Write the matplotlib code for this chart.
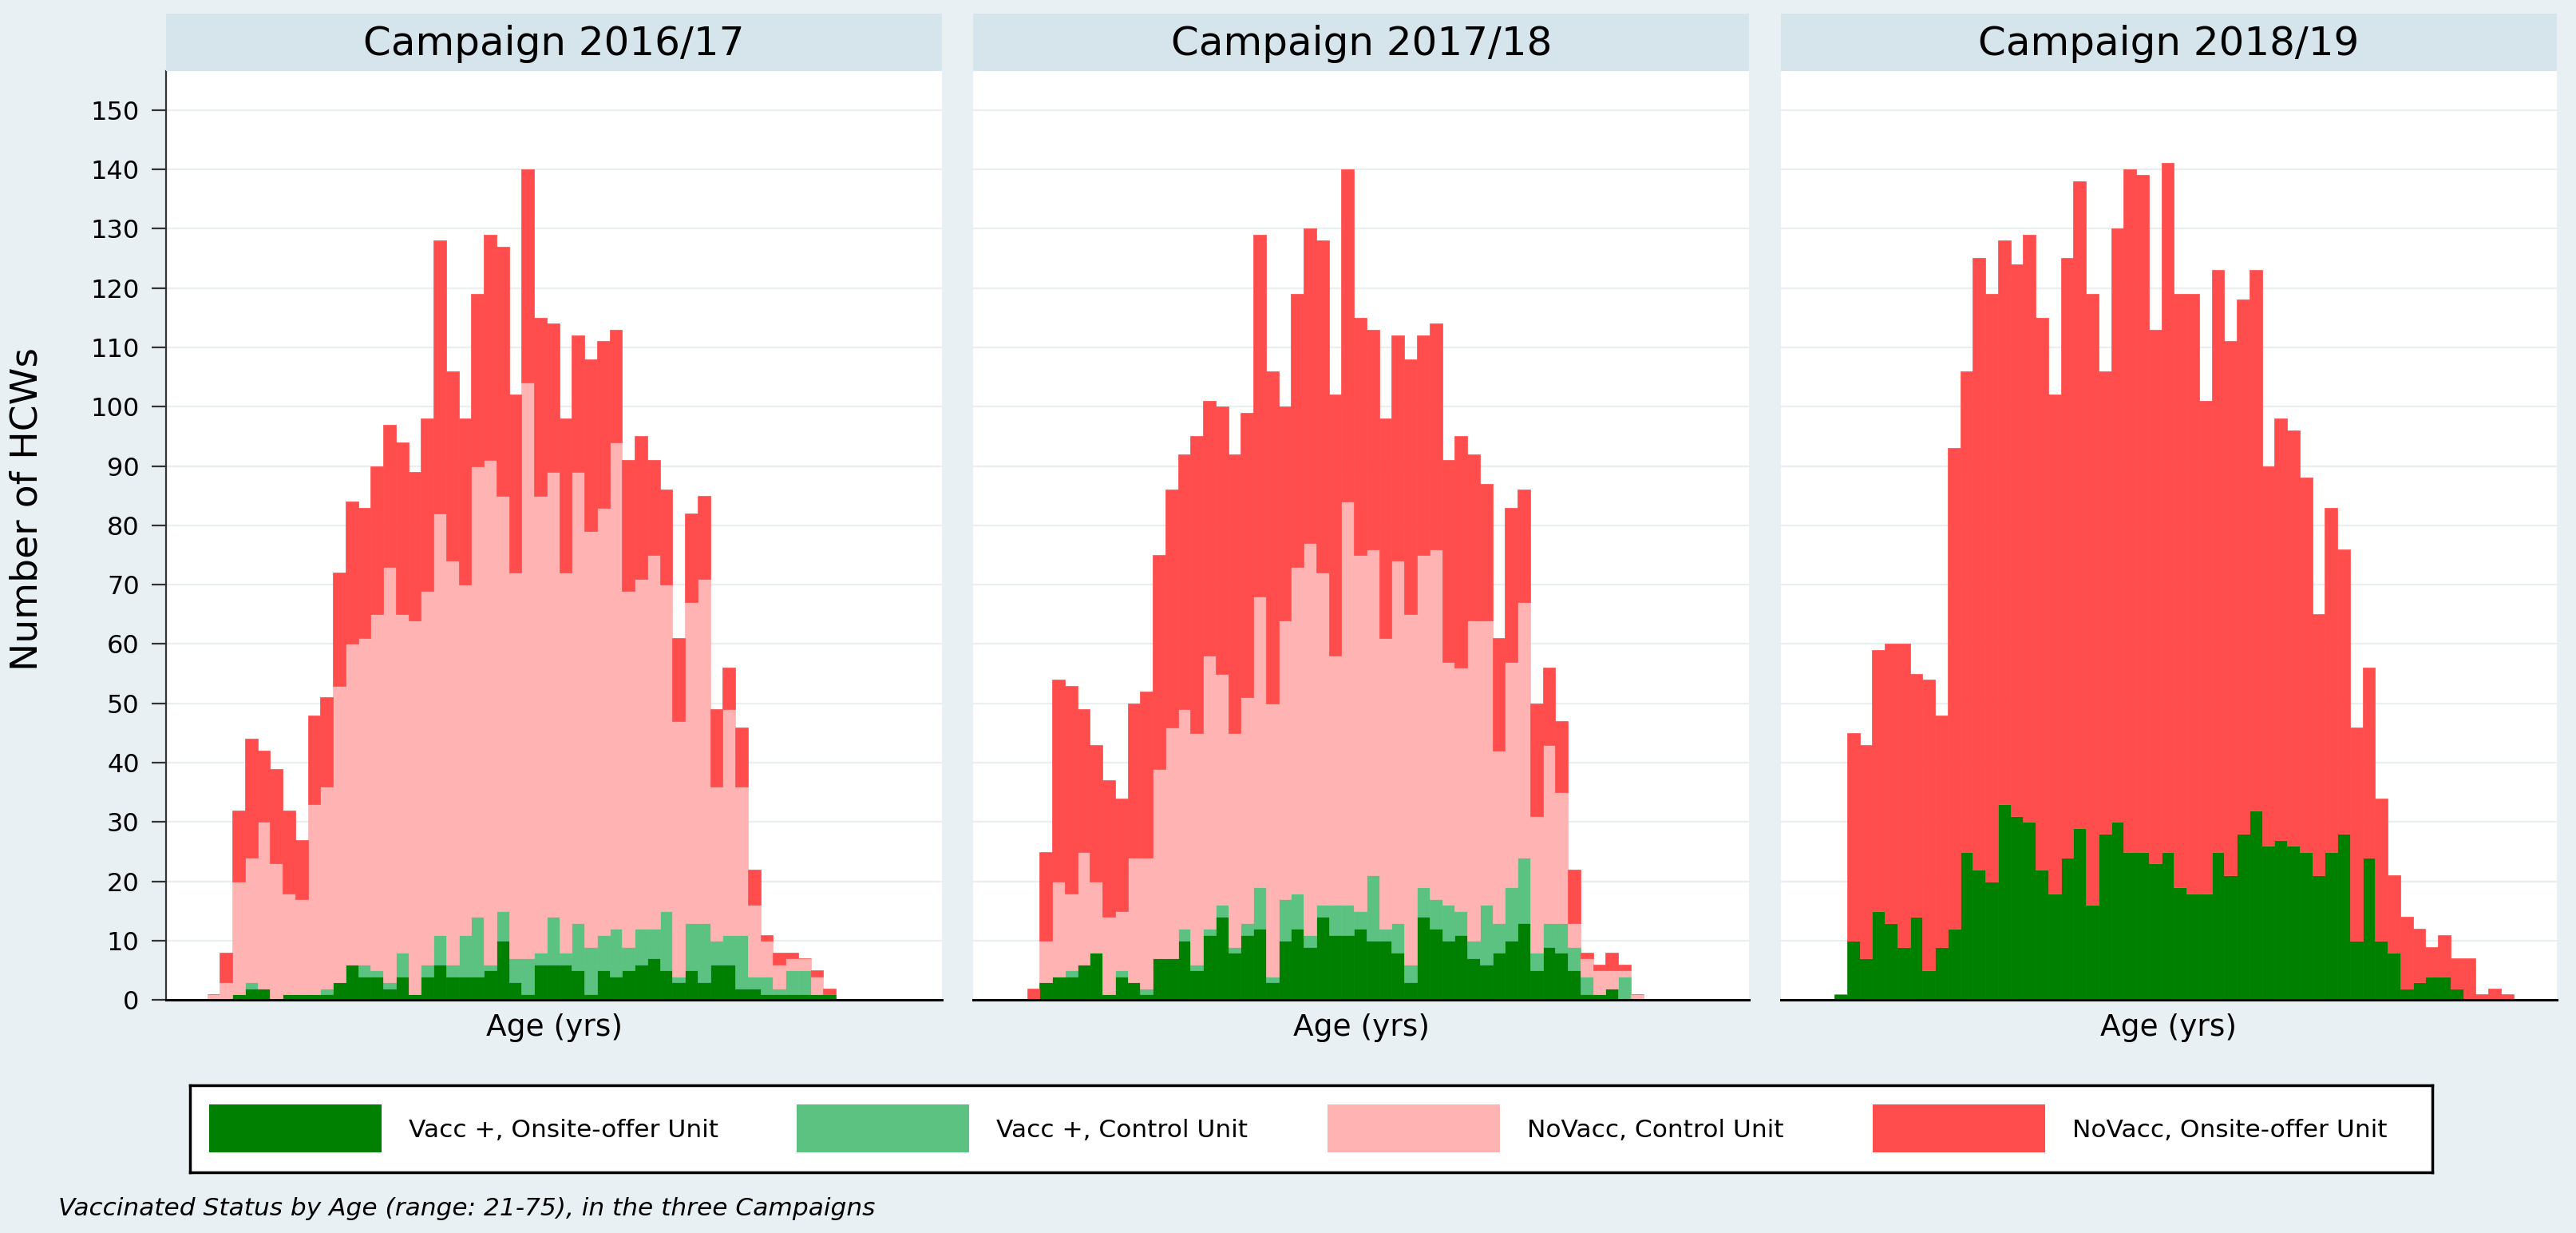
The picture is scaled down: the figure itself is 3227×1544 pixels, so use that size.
import numpy as np
import matplotlib.pyplot as plt
from matplotlib.patches import Rectangle

# Shared style
BG = "#e8f0f3"
STRIP = "#d6e5ec"
GRID = "#e9eef0"
W, H = 3227, 1544

campaigns = ["Campaign 2016/17", "Campaign 2017/18", "Campaign 2018/19"]
series_labels = ["Vacc +, Onsite-offer Unit", "Vacc +, Control Unit",
                 "NoVacc, Control Unit", "NoVacc, Onsite-offer Unit"]
series_colors = ["#008000", "#5bc282", "#ffb3b3", "#ff4c4c"]
caption = "Vaccinated Status by Age (range: 21-75), in the three Campaigns"

# Campaign 2016/17, ages 20..69 (counts per stacked layer)
ages_1617 = np.arange(20, 70)
vacc_onsite_1617 = [0, 0, 1, 2, 2, 0, 1, 1, 1, 1, 3, 6, 4, 4, 2, 4, 1, 4, 6, 4,
                    4, 4, 5, 10, 3, 1, 6, 6, 6, 5, 1, 5, 4, 5, 6, 7, 5, 3, 5, 3,
                    6, 6, 2, 2, 1, 1, 1, 1, 1, 1]
vacc_control_1617 = [0, 0, 0, 1, 0, 0, 0, 0, 0, 1, 0, 0, 2, 1, 1, 4, 0, 2, 5, 2,
                     7, 10, 1, 5, 4, 6, 2, 8, 2, 8, 8, 6, 8, 4, 6, 5, 10, 1, 8, 10,
                     4, 5, 9, 2, 3, 1, 4, 4, 0, 0]
novacc_control_1617 = [1, 3, 19, 21, 28, 23, 17, 16, 32, 34, 50, 54, 55, 60, 70, 57, 63, 63, 71, 68,
                       59, 76, 85, 70, 65, 97, 77, 75, 64, 76, 70, 72, 82, 60, 59, 63, 55, 43, 54, 58,
                       26, 38, 25, 12, 6, 4, 2, 2, 3, 0]
novacc_onsite_1617 = [0, 5, 12, 20, 12, 16, 14, 10, 15, 15, 19, 24, 22, 25, 24, 29, 25, 29, 46, 32,
                      28, 29, 38, 42, 30, 36, 30, 25, 26, 23, 29, 28, 19, 22, 24, 16, 16, 14, 15, 14,
                      13, 7, 10, 6, 1, 2, 1, 0, 1, 1]

# Campaign 2017/18, ages 21..69
ages_1718 = np.arange(21, 70)
vacc_onsite_1718 = [0, 3, 4, 4, 6, 8, 1, 4, 3, 1, 7, 7, 10, 5, 11, 14, 8, 11, 12, 3,
                    10, 12, 9, 14, 11, 11, 12, 10, 10, 8, 3, 14, 12, 10, 11, 7, 6, 8, 10, 13,
                    5, 9, 8, 5, 1, 1, 2, 0, 0]
vacc_control_1718 = [0, 0, 0, 1, 0, 0, 0, 1, 0, 1, 0, 0, 2, 1, 1, 2, 1, 2, 7, 1,
                     7, 6, 2, 2, 5, 5, 3, 11, 2, 5, 3, 5, 5, 6, 4, 3, 10, 5, 9, 11,
                     3, 4, 5, 4, 3, 0, 0, 4, 0]
novacc_control_1718 = [0, 7, 16, 13, 19, 12, 13, 10, 21, 22, 32, 39, 37, 39, 46, 39, 36, 38, 49, 46,
                       47, 55, 66, 56, 42, 68, 60, 55, 49, 61, 59, 56, 59, 41, 41, 54, 48, 29, 38, 43,
                       23, 30, 22, 4, 3, 4, 3, 1, 1]
novacc_onsite_1718 = [2, 15, 34, 35, 24, 23, 23, 19, 26, 28, 36, 40, 43, 50, 43, 45, 47, 48, 61, 56,
                      36, 46, 53, 56, 44, 56, 40, 37, 37, 38, 43, 37, 38, 34, 39, 28, 23, 19, 26, 19,
                      19, 13, 12, 9, 1, 1, 3, 1, 0]

# Campaign 2018/19, ages 21..74 (no control unit)
ages_1819 = np.arange(21, 75)
vacc_onsite_1819 = [1, 10, 7, 15, 13, 9, 14, 5, 9, 12, 25, 22, 20, 33, 31, 30, 22, 18, 24, 29,
                    16, 28, 30, 25, 25, 23, 25, 19, 18, 18, 25, 21, 28, 32, 26, 27, 26, 25, 21, 25,
                    28, 10, 24, 10, 8, 2, 3, 4, 4, 2, 0, 0, 0, 0]
vacc_control_1819 = [0] * 54
novacc_control_1819 = [0] * 54
novacc_onsite_1819 = [0, 35, 36, 44, 47, 51, 41, 49, 39, 81, 81, 103, 99, 95, 93, 99, 93, 84, 101, 109,
                      103, 78, 100, 115, 114, 90, 116, 100, 101, 83, 98, 90, 90, 91, 64, 71, 70, 63, 44, 58,
                      48, 36, 32, 24, 13, 12, 9, 5, 7, 5, 7, 1, 2, 1]

panels = [
    (ages_1617, [vacc_onsite_1617, vacc_control_1617, novacc_control_1617, novacc_onsite_1617]),
    (ages_1718, [vacc_onsite_1718, vacc_control_1718, novacc_control_1718, novacc_onsite_1718]),
    (ages_1819, [vacc_onsite_1819, vacc_control_1819, novacc_control_1819, novacc_onsite_1819]),
]


def px_box(x0, y0, x1, y1):
    """Figure-fraction rectangle from pixel corners (origin top-left)."""
    return [x0 / W, 1 - y1 / H, (x1 - x0) / W, (y1 - y0) / H]


plt.rcParams["font.family"] = ["DejaVu Sans"]
fig = plt.figure(figsize=(W / 100, H / 100), dpi=100, facecolor=BG)

for i, (title, (ages, layers)) in enumerate(zip(campaigns, panels)):
    left = 208 + i * 1011.3
    ax = fig.add_axes(px_box(left, 89.3, left + 972, 1252.4))
    bottom = np.zeros(len(ages))
    for vals, color in zip(layers, series_colors):
        vals = np.asarray(vals, dtype=float)
        ax.bar(ages, vals, width=1.0, bottom=bottom, color=color,
               edgecolor=color, linewidth=0.5)
        bottom += vals

    ax.set_xlim(16.22, 77.93)
    ax.set_ylim(0, 156.5)
    ax.set_yticks(np.arange(0, 151, 10))
    ax.set_xticks([])
    ax.grid(axis="y", color=GRID, linewidth=1.6)
    ax.set_axisbelow(True)
    for side in ("top", "right"):
        ax.spines[side].set_visible(False)
    ax.spines["bottom"].set_color("black")
    ax.spines["bottom"].set_linewidth(2.2)
    if i == 0:
        ax.spines["left"].set_color("#333333")
        ax.spines["left"].set_linewidth(1.6)
        ax.tick_params(axis="y", length=13, width=1.6, labelsize=23, pad=11,
                       color="#333333")
    else:
        ax.spines["left"].set_visible(False)
        ax.tick_params(axis="y", left=False, labelleft=False)
    ax.set_xlabel("Age (yrs)", fontsize=27, labelpad=12)

    # panel strip
    sax = fig.add_axes(px_box(left, 16.7, left + 972, 89.3))
    sax.set_facecolor(STRIP)
    sax.set_xticks([])
    sax.set_yticks([])
    for s in sax.spines.values():
        s.set_visible(False)
    sax.text(0.5, 0.47, title, ha="center", va="center", fontsize=36,
             transform=sax.transAxes)

fig.text(34 / W, 1 - 638 / H, "Number of HCWs", rotation=90, fontsize=34,
         ha="center", va="center")

# legend box
lax = fig.add_axes(px_box(238, 1359, 3047, 1468))
lax.set_facecolor("white")
lax.set_xlim(0, 2809)
lax.set_ylim(109, 0)
lax.set_xticks([])
lax.set_yticks([])
for s in lax.spines.values():
    s.set_color("black")
    s.set_linewidth(2.5)
entry_x = [24, 760, 1425, 2108]
for x, label, color in zip(entry_x, series_labels, series_colors):
    lax.add_patch(Rectangle((x, 24), 216, 60, facecolor=color, edgecolor="none"))
    lax.text(x + 250, 56, label, ha="left", va="center", fontsize=22.5)

fig.text(73 / W, 1 - 1513 / H, caption, fontsize=22.5, style="italic",
         ha="left", va="center")

fig.savefig("out.png", dpi=100, facecolor=BG)
